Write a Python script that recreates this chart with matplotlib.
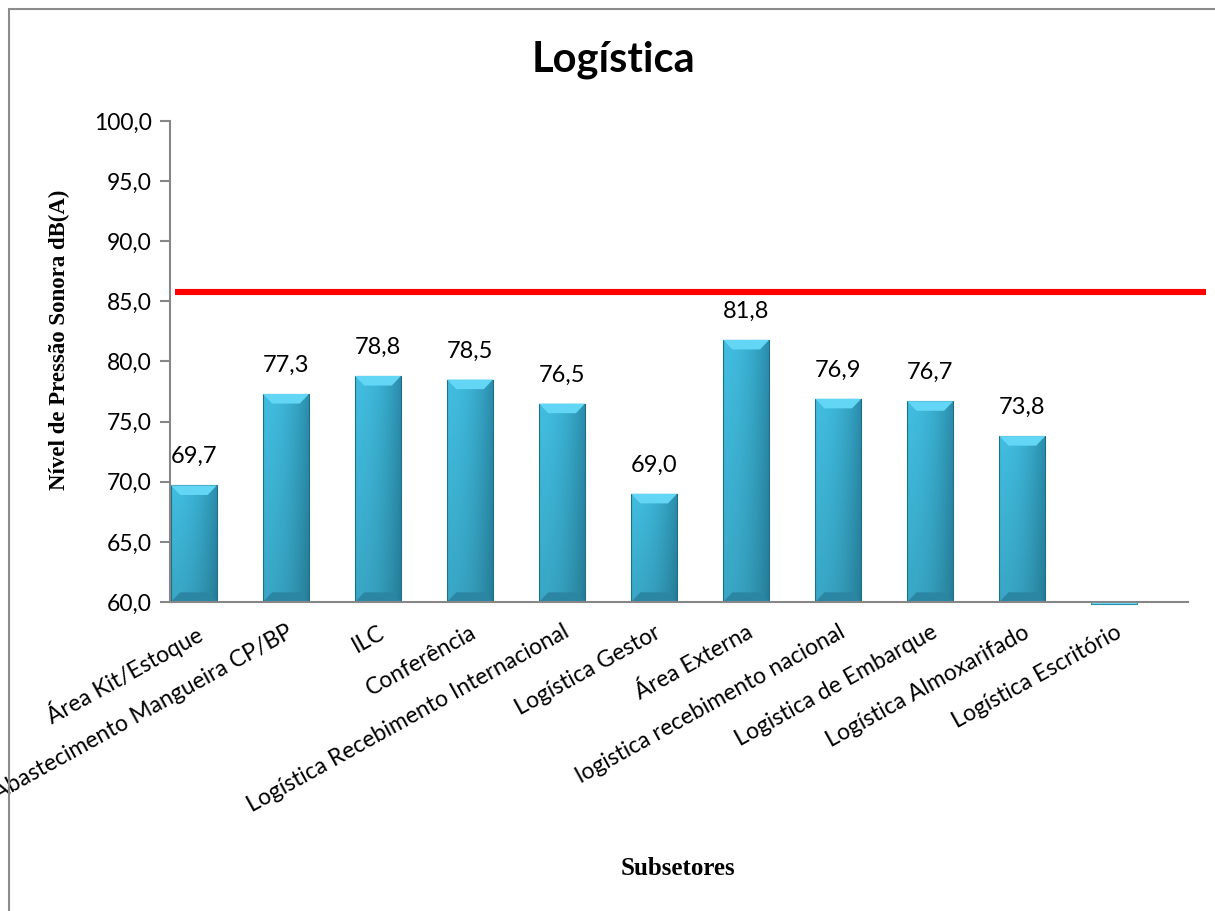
import numpy as np
import matplotlib
matplotlib.use('Agg')
import matplotlib.pyplot as plt
import matplotlib.transforms as mtransforms
from matplotlib.patches import Rectangle, Polygon
from matplotlib.colors import to_rgb

# data
subsetores = ['Área Kit/Estoque', 'Abastecimento Mangueira CP/BP', 'ILC', 'Conferência',
              'Logística Recebimento Internacional', 'Logística Gestor', 'Área Externa',
              'logistica recebimento nacional', 'Logistica de Embarque',
              'Logística Almoxarifado', 'Logística Escritório']
nivel = [69.7, 77.3, 78.8, 78.5, 76.5, 69.0, 81.8, 76.9, 76.7, 73.8, 59.8]
limite = 85.8
y_ticks = [60, 65, 70, 75, 80, 85, 90, 95, 100]

fig = plt.figure(figsize=(12.15, 9.11), dpi=100)
ax = fig.add_axes([0.1399, 0.3392, 0.8379, 0.5280])

base = 60.0
w = 0.5
x = np.arange(len(subsetores))

# gradient image for bars (left light -> right dark, top light -> bottom dark)
c_left = np.array(to_rgb('#41BDE0'))
c_right = np.array(to_rgb('#2A8CAA'))
t = np.linspace(0, 1, 40)
horiz = c_left[None, :] * (1 - t[:, None] ** 2) + c_right[None, :] * (t[:, None] ** 2)
v = np.linspace(1.0, 0.88, 60)
grad = v[:, None, None] * horiz[None, :, :]

for xi, val in zip(x, nivel):
    if val >= base:
        rect = Rectangle((xi - w / 2, base), w, val - base, facecolor='none',
                         edgecolor='#1F6E86', linewidth=0.8, zorder=3)
        ax.add_patch(rect)
        im = ax.imshow(grad, extent=[xi - w / 2, xi + w / 2, base, val],
                       aspect='auto', origin='upper', zorder=2, interpolation='bilinear')
        im.set_clip_path(rect)
        dx, dy = 0.1, 0.8
        top = Polygon([[xi - w / 2, val], [xi + w / 2, val],
                       [xi + w / 2 - dx, val - dy], [xi - w / 2 + dx, val - dy]],
                      closed=True, facecolor='#62D6F4', edgecolor='none', zorder=3)
        ax.add_patch(top)
        bot = Polygon([[xi - w / 2, base], [xi + w / 2, base],
                       [xi + w / 2 - dx, base + dy], [xi - w / 2 + dx, base + dy]],
                      closed=True, facecolor='#2A86A2', edgecolor='none', zorder=3)
        ax.add_patch(bot)
        ax.text(xi, val + 1.5, f'{val:.1f}'.replace('.', ','), ha='center', va='bottom',
                fontsize=17, family='Lato', color='#000000', zorder=4)
    else:
        ax.add_patch(Rectangle((xi - w / 2, base), w, val - base, facecolor='#6FEFFF',
                               edgecolor='#2A8CAA', linewidth=0.8, zorder=3, clip_on=False))

# limit line
ax.plot([0.005, 1.0177], [limite, limite], color='#FF0000', linewidth=4.4,
        transform=ax.get_yaxis_transform(), clip_on=False, zorder=5, solid_capstyle='butt')

ax.set_xlim(-0.26, 10.8)
ax.set_ylim(60, 100)
ax.set_yticks(y_ticks)
ax.set_yticklabels([f'{v:.1f}'.replace('.', ',') for v in y_ticks], fontsize=16.5, family='Lato')
ax.set_xticks(x)
ax.set_xticklabels(subsetores, rotation=29, ha='right', rotation_mode='anchor',
                   fontsize=16.5, family='Lato')
shift = mtransforms.ScaledTranslation(-8 / 100, 0, fig.dpi_scale_trans)
for lbl in ax.get_xticklabels():
    lbl.set_transform(lbl.get_transform() + shift)
ax.tick_params(axis='x', length=0, pad=14)
ax.tick_params(axis='y', length=7, width=1.5, color='#868686', pad=6)
for s in ['top', 'right']:
    ax.spines[s].set_visible(False)
for s in ['left', 'bottom']:
    ax.spines[s].set_color('#868686')
    ax.spines[s].set_linewidth(1.5)
    ax.spines[s].set_zorder(4)

fig.text(0.505, 0.934, 'Logística', ha='center', va='center', fontsize=30,
         fontweight='bold', family='Lato')
fig.text(0.558, 0.047, 'Subsetores', ha='center', va='center', fontsize=18,
         fontweight='bold', family='Liberation Serif')
fig.text(0.049, 0.627, 'Nível de Pressão Sonora dB(A)', ha='center', va='center',
         rotation=90, fontsize=16.5, fontweight='bold', family='Liberation Serif')

# outer chart border
fig.patches.append(Rectangle((9 / 1215, -0.05), 1.1, 1 - 9 / 911 + 0.05, transform=fig.transFigure,
                             fill=False, edgecolor='#8C8C8C', linewidth=1.5))

fig.savefig('out.png', dpi=100)
